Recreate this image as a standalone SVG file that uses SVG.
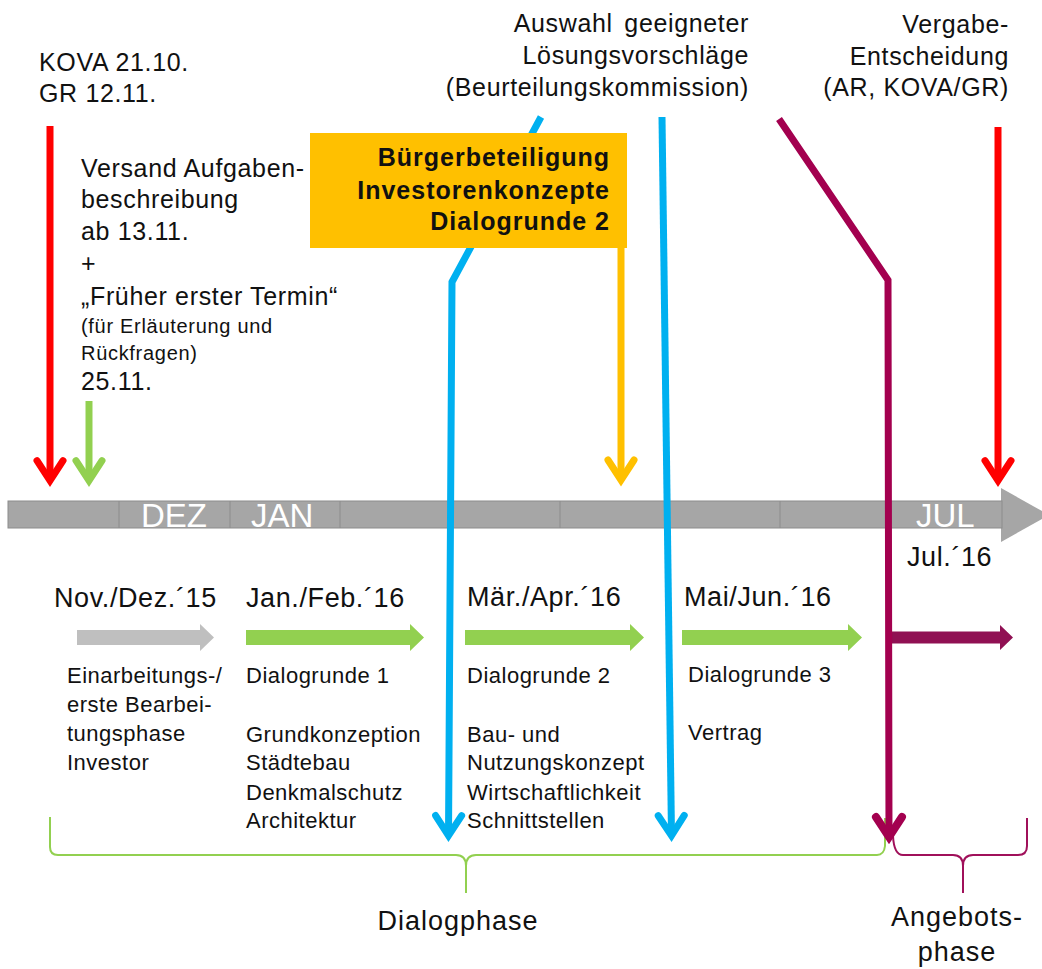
<svg xmlns="http://www.w3.org/2000/svg" width="1042" height="969" viewBox="0 0 1042 969">
<style>
text{font-family:"Liberation Sans",Arial,sans-serif;fill:#111}
.t25{font-size:25px;letter-spacing:0.65px}
.t27{font-size:27px;letter-spacing:0.6px}
.t28{font-size:27px;letter-spacing:1px}
.t21{font-size:22px;letter-spacing:0.5px}
.t20{font-size:20px;letter-spacing:0.7px}
.bold{font-weight:bold;font-size:25px;letter-spacing:1px}
.month{font-size:33px;fill:#fff}
.end{text-anchor:end}
.mid{text-anchor:middle}
.conn{fill:none;stroke-width:7}
.div{stroke:#8C8C8C;stroke-width:1}
.brace{fill:none;stroke-width:2}
</style>
<defs>
<marker id="mRed" viewBox="-30 -20 40 40" refX="0" refY="0" markerWidth="40" markerHeight="40" markerUnits="userSpaceOnUse" orient="auto" overflow="visible"><path d="M-20,-13 L0,0 L-20,13" fill="none" stroke="#FF0000" stroke-width="7" stroke-linecap="round"/></marker>
<marker id="mGreen" viewBox="-30 -20 40 40" refX="0" refY="0" markerWidth="40" markerHeight="40" markerUnits="userSpaceOnUse" orient="auto" overflow="visible"><path d="M-20,-13 L0,0 L-20,13" fill="none" stroke="#92D050" stroke-width="7" stroke-linecap="round"/></marker>
<marker id="mOrange" viewBox="-30 -20 40 40" refX="0" refY="0" markerWidth="40" markerHeight="40" markerUnits="userSpaceOnUse" orient="auto" overflow="visible"><path d="M-20,-13 L0,0 L-20,13" fill="none" stroke="#FFC000" stroke-width="7" stroke-linecap="round"/></marker>
<marker id="mBlue" viewBox="-30 -20 40 40" refX="0" refY="0" markerWidth="40" markerHeight="40" markerUnits="userSpaceOnUse" orient="auto" overflow="visible"><path d="M-20,-13 L0,0 L-20,13" fill="none" stroke="#00B0F0" stroke-width="7" stroke-linecap="round"/></marker>
<marker id="mMaroon" viewBox="-30 -20 40 40" refX="0" refY="0" markerWidth="40" markerHeight="40" markerUnits="userSpaceOnUse" orient="auto" overflow="visible"><path d="M-20,-13 L0,0 L-20,13" fill="none" stroke="#A3004F" stroke-width="8" stroke-linecap="round"/></marker>
</defs>

<g id="timeline">
<polygon points="1001,488 1049,515 1001,542" fill="#A6A6A6"/>
<rect x="8" y="501" width="994" height="27" fill="#A6A6A6" stroke="#8C8C8C" stroke-width="1"/>
<line class="div" x1="119" y1="501" x2="119" y2="528"/>
<line class="div" x1="230" y1="501" x2="230" y2="528"/>
<line class="div" x1="340" y1="501" x2="340" y2="528"/>
<line class="div" x1="560" y1="501" x2="560" y2="528"/>
<line class="div" x1="780" y1="501" x2="780" y2="528"/>
<text class="month" x="141" y="527">DEZ</text>
<text class="month" x="251" y="527">JAN</text>
<text class="month" x="916" y="527">JUL</text>
<text class="t27" x="907" y="566">Jul.´16</text>
</g>

<g id="node-kova">
<text class="t25" x="39" y="71">KOVA 21.10.</text>
<text class="t25" x="39" y="102">GR 12.11.</text>
</g>

<g id="node-versand">
<text class="t25" x="81" y="177">Versand Aufgaben-</text>
<text class="t25" x="81" y="208">beschreibung</text>
<text class="t25" x="81" y="240">ab 13.11.</text>
<text class="t25" x="81" y="272">+</text>
<text class="t25" x="81" y="305">„Früher erster Termin“</text>
<text class="t20" x="81" y="333">(für Erläuterung und</text>
<text class="t20" x="81" y="360">Rückfragen)</text>
<text class="t25" x="81" y="390">25.11.</text>
</g>

<g id="node-auswahl">
<text class="t25 end" x="749" y="32" word-spacing="4">Auswahl geeigneter</text>
<text class="t25 end" x="749" y="64">Lösungsvorschläge</text>
<text class="t25 end" x="749" y="96">(Beurteilungskommission)</text>
</g>

<g id="node-vergabe">
<text class="t25 end" x="1009" y="33">Vergabe-</text>
<text class="t25 end" x="1009" y="65">Entscheidung</text>
<text class="t25 end" x="1009" y="96">(AR, KOVA/GR)</text>
</g>

<g id="phase-novdez">
<text class="t27" x="54" y="607">Nov./Dez.´15</text>
<polygon points="77,630 200,630 200,624 214,637.5 200,651 200,645 77,645" fill="#BFBFBF"/>
<text class="t21" x="67" y="683">Einarbeitungs-/</text>
<text class="t21" x="67" y="712">erste Bearbei-</text>
<text class="t21" x="67" y="741">tungsphase</text>
<text class="t21" x="67" y="770">Investor</text>
</g>

<g id="phase-janfeb">
<text class="t27" x="246" y="607">Jan./Feb.´16</text>
<polygon points="246,630 410,630 410,624 424,637.5 410,651 410,645 246,645" fill="#92D050"/>
<text class="t21" x="246" y="683">Dialogrunde 1</text>
<text class="t21" x="246" y="742">Grundkonzeption</text>
<text class="t21" x="246" y="770">Städtebau</text>
<text class="t21" x="246" y="800">Denkmalschutz</text>
<text class="t21" x="246" y="828">Architektur</text>
</g>

<g id="phase-maerapr">
<text class="t27" x="467" y="606">Mär./Apr.´16</text>
<polygon points="465,630 630,630 630,624 644,637.5 630,651 630,645 465,645" fill="#92D050"/>
<text class="t21" x="467" y="683">Dialogrunde 2</text>
<text class="t21" x="467" y="742">Bau- und</text>
<text class="t21" x="467" y="770">Nutzungskonzept</text>
<text class="t21" x="467" y="800">Wirtschaftlichkeit</text>
<text class="t21" x="467" y="828">Schnittstellen</text>
</g>

<g id="phase-maijun">
<text class="t27" x="684" y="606">Mai/Jun.´16</text>
<polygon points="682,630 848,630 848,624 862,637.5 848,651 848,645 682,645" fill="#92D050"/>
<text class="t21" x="688" y="682">Dialogrunde 3</text>
<text class="t21" x="688" y="740">Vertrag</text>
</g>

<g id="phase-jul">
<polygon points="889,631.5 1000,631.5 1000,625 1013,637.5 1000,650 1000,643.5 889,643.5" fill="#901053"/>
</g>

<g id="braces">
<path class="brace" stroke="#92D050" d="M50,817 V847 Q50,855 58,855 H456 Q466,855 466,866 V893 M466,866 Q466,855 476,855 H877 Q884,855 885,846 V818"/>
<path class="brace" stroke="#A0105A" d="M893,836 Q894,855 903,855 H953 Q963,855 963,866 V893 M963,866 Q963,855 973,855 H1018 Q1027,855 1027,846 V818"/>
<text class="t28 mid" x="458" y="930">Dialogphase</text>
<text class="t28 mid" x="957" y="926">Angebots-</text>
<text class="t28 mid" x="957" y="961">phase</text>
</g>

<g id="connectors">
<path class="conn" stroke="#FF0000" d="M50,126 V480.6" marker-end="url(#mRed)"/>
<path class="conn" stroke="#92D050" d="M89,401 V480.6" marker-end="url(#mGreen)"/>
<path class="conn" stroke="#FFC000" stroke-width="6" d="M621,240 V480" marker-end="url(#mOrange)"/>
<path class="conn" stroke="#FF0000" d="M998,127 V480.6" marker-end="url(#mRed)"/>
<path class="conn" stroke="#00B0F0" d="M541,117 L452,282 L448.5,835.6" marker-end="url(#mBlue)"/>
<path class="conn" stroke="#00B0F0" d="M662,117 L671.5,835.6" marker-end="url(#mBlue)"/>
<path class="conn" stroke="#A3004F" stroke-width="8" d="M779,119 L888,280 L889,837" marker-end="url(#mMaroon)"/>
</g>

<g id="node-box">
<rect x="310" y="133" width="317" height="115" fill="#FFC000"/>
<text class="bold end" x="610" y="166">Bürgerbeteiligung</text>
<text class="bold end" x="610" y="199">Investorenkonzepte</text>
<text class="bold end" x="610" y="230">Dialogrunde 2</text>
</g>
</svg>
